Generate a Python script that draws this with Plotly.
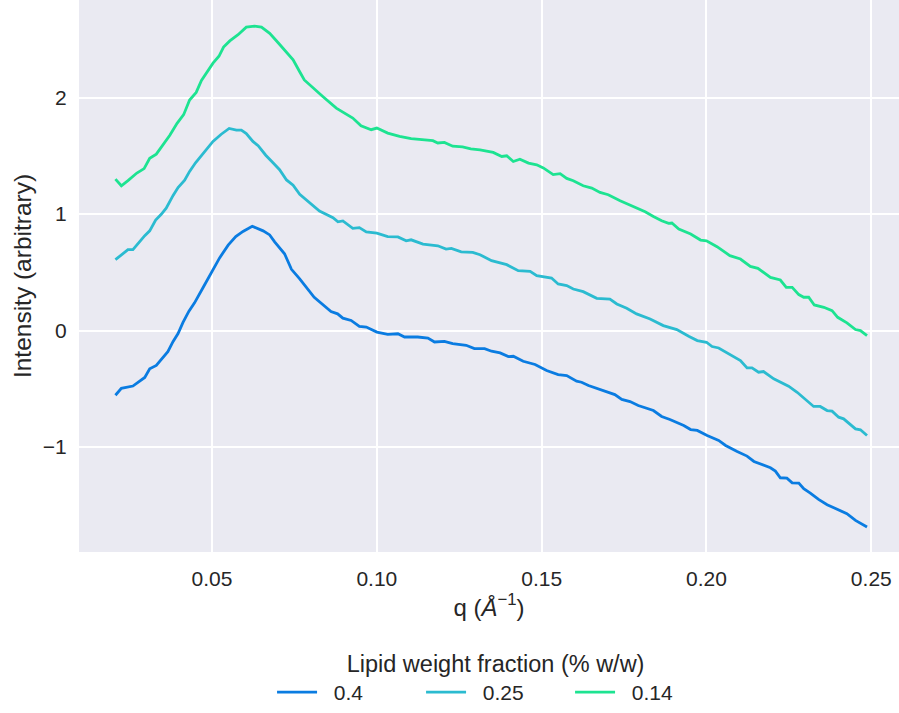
import plotly.graph_objects as go

# ---- data ----
labels = ["0.4", "0.25", "0.14"]
colors = ["#0a7ce1", "#2bbbd0", "#1de391"]

q_040 = [0.0207, 0.0225, 0.0260, 0.0296, 0.0311, 0.0331, 0.0366, 0.0382, 0.0397, 0.0412,
         0.0430, 0.0447, 0.0473, 0.0498, 0.0523, 0.0549, 0.0572, 0.0594, 0.0622, 0.0655,
         0.0675, 0.0690, 0.0720, 0.0741, 0.0766, 0.0810, 0.0861, 0.0881, 0.0897, 0.0922,
         0.0947, 0.0968, 0.1000, 0.1033, 0.1064, 0.1084, 0.1124, 0.1155, 0.1175, 0.1205,
         0.1230, 0.1271, 0.1296, 0.1327, 0.1348, 0.1374, 0.1399, 0.1414, 0.1444, 0.1480,
         0.1515, 0.1550, 0.1576, 0.1606, 0.1621, 0.1642, 0.1687, 0.1722, 0.1743, 0.1768,
         0.1793, 0.1818, 0.1839, 0.1864, 0.1889, 0.1931, 0.1952, 0.1972, 0.2002, 0.2037,
         0.2058, 0.2093, 0.2123, 0.2144, 0.2194, 0.2209, 0.2224, 0.2244, 0.2260, 0.2280,
         0.2295, 0.2315, 0.2340, 0.2366, 0.2396, 0.2426, 0.2452, 0.2487]
i_040 = [-0.555, -0.496, -0.476, -0.402, -0.328, -0.299, -0.181, -0.093, -0.025, 0.070,
         0.167, 0.238, 0.370, 0.497, 0.624, 0.733, 0.806, 0.851, 0.895, 0.856,
         0.821, 0.762, 0.659, 0.526, 0.444, 0.286, 0.164, 0.144, 0.107, 0.087,
         0.036, 0.030, -0.013, -0.032, -0.027, -0.055, -0.055, -0.064, -0.098, -0.092,
         -0.112, -0.126, -0.155, -0.155, -0.177, -0.191, -0.223, -0.220, -0.263, -0.291,
         -0.343, -0.377, -0.386, -0.434, -0.443, -0.471, -0.514, -0.549, -0.591, -0.609,
         -0.643, -0.663, -0.686, -0.737, -0.763, -0.814, -0.849, -0.857, -0.900, -0.943,
         -0.986, -1.037, -1.077, -1.123, -1.177, -1.206, -1.263, -1.266, -1.306, -1.309,
         -1.357, -1.394, -1.449, -1.494, -1.529, -1.571, -1.629, -1.686]

q_025 = [0.0207, 0.0225, 0.0245, 0.0260, 0.0279, 0.0296, 0.0311, 0.0329, 0.0346, 0.0361,
         0.0382, 0.0397, 0.0417, 0.0432, 0.0450, 0.0468, 0.0483, 0.0503, 0.0528, 0.0552,
         0.0574, 0.0589, 0.0604, 0.0624, 0.0640, 0.0663, 0.0685, 0.0705, 0.0726, 0.0746,
         0.0766, 0.0826, 0.0867, 0.0882, 0.0897, 0.0927, 0.0947, 0.0968, 0.1000, 0.1033,
         0.1064, 0.1089, 0.1104, 0.1140, 0.1185, 0.1210, 0.1226, 0.1256, 0.1291, 0.1313,
         0.1348, 0.1394, 0.1429, 0.1465, 0.1485, 0.1530, 0.1550, 0.1576, 0.1596, 0.1626,
         0.1667, 0.1707, 0.1728, 0.1758, 0.1788, 0.1829, 0.1869, 0.1910, 0.1946, 0.1972,
         0.2000, 0.2017, 0.2037, 0.2063, 0.2103, 0.2123, 0.2138, 0.2158, 0.2173, 0.2204,
         0.2249, 0.2275, 0.2325, 0.2345, 0.2366, 0.2381, 0.2401, 0.2416, 0.2452, 0.2467,
         0.2487]
i_025 = [0.609, 0.653, 0.694, 0.694, 0.762, 0.815, 0.856, 0.948, 0.998, 1.051,
         1.160, 1.228, 1.290, 1.366, 1.440, 1.499, 1.558, 1.623, 1.685, 1.735,
         1.720, 1.720, 1.691, 1.623, 1.587, 1.505, 1.440, 1.381, 1.293, 1.248,
         1.170, 1.026, 0.969, 0.933, 0.941, 0.878, 0.884, 0.847, 0.836, 0.807,
         0.804, 0.770, 0.779, 0.742, 0.728, 0.699, 0.705, 0.676, 0.671, 0.651,
         0.600, 0.566, 0.514, 0.509, 0.471, 0.451, 0.400, 0.386, 0.357, 0.334,
         0.277, 0.271, 0.229, 0.191, 0.143, 0.100, 0.043, 0.009, -0.049, -0.086,
         -0.100, -0.137, -0.149, -0.191, -0.257, -0.320, -0.320, -0.357, -0.351, -0.414,
         -0.477, -0.529, -0.651, -0.651, -0.686, -0.691, -0.743, -0.757, -0.843, -0.851,
         -0.900]

q_014 = [0.0207, 0.0225, 0.0245, 0.0272, 0.0294, 0.0311, 0.0331, 0.0351, 0.0372, 0.0394,
         0.0414, 0.0432, 0.0452, 0.0468, 0.0483, 0.0503, 0.0521, 0.0535, 0.0554, 0.0579,
         0.0604, 0.0629, 0.0650, 0.0675, 0.0700, 0.0726, 0.0746, 0.0766, 0.0780, 0.0836,
         0.0877, 0.0927, 0.0952, 0.0983, 0.1000, 0.1033, 0.1069, 0.1104, 0.1140, 0.1170,
         0.1185, 0.1205, 0.1230, 0.1260, 0.1285, 0.1313, 0.1353, 0.1379, 0.1394, 0.1414,
         0.1434, 0.1460, 0.1485, 0.1505, 0.1535, 0.1556, 0.1576, 0.1596, 0.1626, 0.1652,
         0.1677, 0.1702, 0.1738, 0.1778, 0.1814, 0.1839, 0.1864, 0.1885, 0.1895, 0.1916,
         0.1952, 0.1982, 0.2000, 0.2032, 0.2071, 0.2103, 0.2133, 0.2156, 0.2194, 0.2224,
         0.2242, 0.2260, 0.2280, 0.2295, 0.2310, 0.2327, 0.2356, 0.2381, 0.2398, 0.2426,
         0.2452, 0.2467, 0.2487]
i_014 = [1.300, 1.243, 1.287, 1.352, 1.390, 1.478, 1.514, 1.593, 1.676, 1.779,
         1.853, 1.979, 2.044, 2.147, 2.206, 2.295, 2.354, 2.433, 2.486, 2.539,
         2.604, 2.613, 2.604, 2.551, 2.472, 2.383, 2.324, 2.221, 2.151, 2.009,
         1.909, 1.824, 1.758, 1.724, 1.738, 1.695, 1.667, 1.647, 1.638, 1.630,
         1.610, 1.615, 1.582, 1.576, 1.559, 1.551, 1.529, 1.494, 1.500, 1.451,
         1.471, 1.437, 1.423, 1.396, 1.339, 1.347, 1.306, 1.286, 1.243, 1.223,
         1.186, 1.166, 1.114, 1.066, 1.020, 0.980, 0.943, 0.920, 0.923, 0.871,
         0.829, 0.777, 0.771, 0.720, 0.643, 0.614, 0.551, 0.534, 0.457, 0.434,
         0.371, 0.371, 0.309, 0.286, 0.286, 0.220, 0.200, 0.171, 0.114, 0.066,
         0.009, 0.000, -0.043]

series_q = [q_040, q_025, q_014]
series_i = [i_040, i_025, i_014]

x_ticks = [0.05, 0.10, 0.15, 0.20, 0.25]
x_tick_text = ["0.05", "0.10", "0.15", "0.20", "0.25"]
y_ticks = [-1, 0, 1, 2]
y_tick_text = ["\u22121", "0", "1", "2"]

FONT = "Liberation Sans, Arial, sans-serif"
TXT = "#262626"

fig = go.Figure()
for q, inten, lab, col in zip(series_q, series_i, labels, colors):
    fig.add_trace(go.Scatter(x=q, y=inten, mode="lines", name="\u00a0\u00a0" + lab,
                             line=dict(color=col, width=2.8)))

fig.update_layout(
    width=899, height=713,
    margin=dict(l=79, r=0, t=0, b=159),
    paper_bgcolor="white",
    plot_bgcolor="#EAEAF2",
    font=dict(family=FONT, size=21, color=TXT),
    showlegend=True,
    legend=dict(
        orientation="h",
        x=0.508, xanchor="center",
        y=-0.162, yanchor="top",
        title=dict(text="Lipid weight fraction (% w/w)", side="top center",
                   font=dict(size=23.5, color=TXT)),
        font=dict(size=21, color=TXT),
        itemwidth=40,
        entrywidth=94, entrywidthmode="pixels",
        bgcolor="rgba(0,0,0,0)",
    ),
)
fig.update_xaxes(
    range=[0.00965, 0.2584],
    tickvals=x_ticks, ticktext=x_tick_text,
    showgrid=True, gridcolor="white", gridwidth=1.6,
    zeroline=False, showline=False,
    ticks="outside", ticklen=8, tickcolor="rgba(0,0,0,0)",
    title=dict(text="q (<i>Å</i><sup>\u22121</sup>)", font=dict(size=24, color=TXT), standoff=9),
    tickfont=dict(size=21, color=TXT),
)
fig.update_yaxes(
    range=[-1.90, 2.837],
    tickvals=y_ticks, ticktext=y_tick_text,
    showgrid=True, gridcolor="white", gridwidth=1.6,
    zeroline=False, showline=False,
    ticks="outside", ticklen=7, tickcolor="rgba(0,0,0,0)",
    title=dict(text="Intensity (arbitrary)", font=dict(size=24.5, color=TXT), standoff=4),
    tickfont=dict(size=21, color=TXT),
)

fig.write_html("out.html")
